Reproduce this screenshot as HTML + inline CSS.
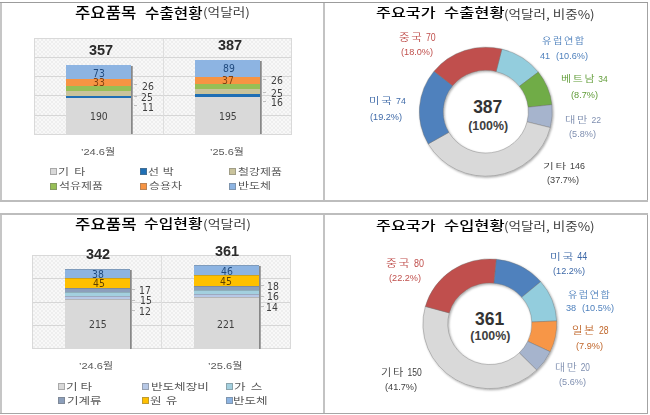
<!DOCTYPE html>
<html><head><meta charset="utf-8"><title>chart</title><style>
html,body{margin:0;padding:0}
body{background:#fff;width:650px;height:415px;overflow:hidden;position:relative}
.t{position:absolute;white-space:pre;line-height:1;transform-origin:0 0}
.r{position:absolute}
.mk{position:absolute;width:7px;height:7px;box-sizing:border-box;border:1px solid rgba(110,110,110,0.45)}
.dn{position:absolute;left:0;top:0}
.plot{position:absolute;box-sizing:border-box;border:1px solid #d9d9d9;background:repeating-conic-gradient(#eeeeee 0 25%, #f8f8f8 0 50%) 0 0/4px 4px}
</style></head><body>
<div class="r" style="left:0.00px;top:2.00px;width:2.00px;height:200.00px;background:#c6c6c6;"></div>
<div class="r" style="left:0.00px;top:213.00px;width:2.00px;height:201.00px;background:#c6c6c6;"></div>
<div class="r" style="left:323.00px;top:2.00px;width:2.00px;height:199.00px;background:#c3c3c3;"></div>
<div class="r" style="left:323.00px;top:213.00px;width:2.00px;height:200.00px;background:#c3c3c3;"></div>
<div class="r" style="left:647.00px;top:2.00px;width:1.20px;height:199.00px;background:#a3a3a3;"></div>
<div class="r" style="left:647.00px;top:213.00px;width:1.20px;height:200.00px;background:#a3a3a3;"></div>
<div class="r" style="left:0.00px;top:1.60px;width:648.00px;height:1.50px;background:#9c9c9c;"></div>
<div class="r" style="left:0.00px;top:200.00px;width:648.00px;height:2.00px;background:#bdbdbd;"></div>
<div class="r" style="left:0.00px;top:212.50px;width:648.00px;height:2.00px;background:#bdbdbd;"></div>
<div class="r" style="left:0.00px;top:412.50px;width:648.00px;height:1.50px;background:#a6a6a6;"></div>
<div class="plot" style="left:34px;top:38px;width:258px;height:96.5px"></div>
<div class="r" style="left:35.00px;top:56.80px;width:256.00px;height:1.00px;background:#d6d6d6;"></div>
<div class="r" style="left:35.00px;top:76.10px;width:256.00px;height:1.00px;background:#d6d6d6;"></div>
<div class="r" style="left:35.00px;top:95.40px;width:256.00px;height:1.00px;background:#d6d6d6;"></div>
<div class="r" style="left:35.00px;top:114.70px;width:256.00px;height:1.00px;background:#d6d6d6;"></div>
<div class="r" style="left:162.50px;top:39.00px;width:1.00px;height:94.50px;background:#dedede;"></div>
<div class="r" style="left:66.00px;top:97.83px;width:65.00px;height:36.67px;background:#d9d9d9;"></div>
<div class="r" style="left:66.00px;top:95.71px;width:65.00px;height:2.12px;background:#1f6fb5;"></div>
<div class="r" style="left:66.00px;top:90.88px;width:65.00px;height:4.83px;background:#c9c39c;"></div>
<div class="r" style="left:66.00px;top:85.86px;width:65.00px;height:5.02px;background:#97bf56;"></div>
<div class="r" style="left:66.00px;top:79.49px;width:65.00px;height:6.37px;background:#f79443;"></div>
<div class="r" style="left:66.00px;top:65.41px;width:65.00px;height:14.09px;background:#8db4e2;"></div>
<div class="r" style="left:131.00px;top:66.41px;width:2.00px;height:68.09px;background:linear-gradient(90deg,#7a7a7a,#b0b0b0);"></div>
<div class="r" style="left:195.00px;top:96.87px;width:65.00px;height:37.63px;background:#d9d9d9;"></div>
<div class="r" style="left:195.00px;top:93.78px;width:65.00px;height:3.09px;background:#1f6fb5;"></div>
<div class="r" style="left:195.00px;top:88.95px;width:65.00px;height:4.83px;background:#c9c39c;"></div>
<div class="r" style="left:195.00px;top:83.93px;width:65.00px;height:5.02px;background:#97bf56;"></div>
<div class="r" style="left:195.00px;top:76.79px;width:65.00px;height:7.14px;background:#f79443;"></div>
<div class="r" style="left:195.00px;top:59.62px;width:65.00px;height:17.18px;background:#8db4e2;"></div>
<div class="r" style="left:260.00px;top:60.62px;width:2.00px;height:73.88px;background:linear-gradient(90deg,#7a7a7a,#b0b0b0);"></div>
<div class="r" style="left:134.00px;top:84.10px;width:3.00px;height:1.00px;background:#bfbfbf;"></div>
<div class="r" style="left:134.00px;top:96.20px;width:3.00px;height:1.00px;background:#bfbfbf;"></div>
<div class="r" style="left:134.00px;top:105.30px;width:3.00px;height:1.00px;background:#bfbfbf;"></div>
<div class="r" style="left:263.00px;top:79.00px;width:3.00px;height:1.00px;background:#bfbfbf;"></div>
<div class="r" style="left:263.00px;top:92.00px;width:3.00px;height:1.00px;background:#bfbfbf;"></div>
<div class="r" style="left:263.00px;top:101.00px;width:3.00px;height:1.00px;background:#bfbfbf;"></div>
<div class="mk" style="left:50px;top:167.5px;background:#d9d9d9"></div>
<div class="mk" style="left:50px;top:183px;background:#97bf56"></div>
<div class="mk" style="left:139.5px;top:167.5px;background:#1f6fb5"></div>
<div class="mk" style="left:139.5px;top:183px;background:#f79443"></div>
<div class="mk" style="left:228.5px;top:167.5px;background:#c9c39c"></div>
<div class="mk" style="left:228.5px;top:183px;background:#8db4e2"></div>
<div class="plot" style="left:32px;top:255.2px;width:259px;height:93.80000000000001px"></div>
<div class="r" style="left:33.00px;top:278.15px;width:257.00px;height:1.00px;background:#d6d6d6;"></div>
<div class="r" style="left:33.00px;top:301.60px;width:257.00px;height:1.00px;background:#d6d6d6;"></div>
<div class="r" style="left:33.00px;top:325.05px;width:257.00px;height:1.00px;background:#d6d6d6;"></div>
<div class="r" style="left:161.00px;top:256.20px;width:1.00px;height:91.80px;background:#dedede;"></div>
<div class="r" style="left:65.00px;top:298.58px;width:64.50px;height:50.42px;background:#d9d9d9;box-shadow:inset 0 1px 0 rgba(90,90,90,0.28);"></div>
<div class="r" style="left:65.00px;top:295.77px;width:64.50px;height:2.81px;background:#b7c8e6;box-shadow:inset 0 1px 0 rgba(90,90,90,0.28);"></div>
<div class="r" style="left:65.00px;top:292.25px;width:64.50px;height:3.52px;background:#a3d0df;box-shadow:inset 0 1px 0 rgba(90,90,90,0.28);"></div>
<div class="r" style="left:65.00px;top:288.26px;width:64.50px;height:3.99px;background:#8c9fbb;box-shadow:inset 0 1px 0 rgba(90,90,90,0.28);"></div>
<div class="r" style="left:65.00px;top:277.71px;width:64.50px;height:10.55px;background:#ffc000;box-shadow:inset 0 1px 0 rgba(90,90,90,0.28);"></div>
<div class="r" style="left:65.00px;top:268.80px;width:64.50px;height:8.91px;background:#8db4e2;box-shadow:inset 0 1px 0 rgba(90,90,90,0.28);"></div>
<div class="r" style="left:129.50px;top:269.80px;width:2.00px;height:79.20px;background:linear-gradient(90deg,#7a7a7a,#b0b0b0);"></div>
<div class="r" style="left:194.40px;top:297.18px;width:64.60px;height:51.82px;background:#d9d9d9;box-shadow:inset 0 1px 0 rgba(90,90,90,0.28);"></div>
<div class="r" style="left:194.40px;top:293.89px;width:64.60px;height:3.28px;background:#b7c8e6;box-shadow:inset 0 1px 0 rgba(90,90,90,0.28);"></div>
<div class="r" style="left:194.40px;top:290.14px;width:64.60px;height:3.75px;background:#a3d0df;box-shadow:inset 0 1px 0 rgba(90,90,90,0.28);"></div>
<div class="r" style="left:194.40px;top:285.92px;width:64.60px;height:4.22px;background:#8c9fbb;box-shadow:inset 0 1px 0 rgba(90,90,90,0.28);"></div>
<div class="r" style="left:194.40px;top:275.37px;width:64.60px;height:10.55px;background:#ffc000;box-shadow:inset 0 1px 0 rgba(90,90,90,0.28);"></div>
<div class="r" style="left:194.40px;top:264.58px;width:64.60px;height:10.79px;background:#8db4e2;box-shadow:inset 0 1px 0 rgba(90,90,90,0.28);"></div>
<div class="r" style="left:259.00px;top:265.58px;width:2.00px;height:83.42px;background:linear-gradient(90deg,#7a7a7a,#b0b0b0);"></div>
<div class="r" style="left:132.00px;top:289.10px;width:3.00px;height:1.00px;background:#bfbfbf;"></div>
<div class="r" style="left:132.00px;top:299.70px;width:3.00px;height:1.00px;background:#bfbfbf;"></div>
<div class="r" style="left:132.00px;top:310.30px;width:3.00px;height:1.00px;background:#bfbfbf;"></div>
<div class="r" style="left:261.00px;top:285.10px;width:3.00px;height:1.00px;background:#bfbfbf;"></div>
<div class="r" style="left:261.00px;top:295.70px;width:3.00px;height:1.00px;background:#bfbfbf;"></div>
<div class="r" style="left:261.00px;top:306.30px;width:3.00px;height:1.00px;background:#bfbfbf;"></div>
<div class="mk" style="left:58px;top:383px;background:#d9d9d9"></div>
<div class="mk" style="left:58px;top:397px;background:#8c9fbb"></div>
<div class="mk" style="left:142px;top:383px;background:#b7c8e6"></div>
<div class="mk" style="left:142px;top:397px;background:#ffc000"></div>
<div class="mk" style="left:225.5px;top:383px;background:#a3d0df"></div>
<div class="mk" style="left:225.5px;top:397px;background:#8db4e2"></div>
<svg class="dn" width="650" height="415" viewBox="0 0 650 415"><defs><filter id="sh485" x="-20%" y="-20%" width="140%" height="140%"><feDropShadow dx="1" dy="1.2" stdDeviation="0.9" flood-color="#000" flood-opacity="0.35"/></filter></defs><g transform="translate(485.8,111.7) scale(1,0.97)" filter="url(#sh485)"><path d="M16.09,-64.52 A66.5,66.5 0 0 1 52.50,-40.81 L33.63,-26.15 A42.6,42.6 0 0 0 10.31,-41.33 Z" fill="#93cddd" stroke="rgba(110,110,110,0.55)" stroke-width="0.7"/><path d="M52.50,-40.81 A66.5,66.5 0 0 1 66.11,-7.22 L42.35,-4.62 A42.6,42.6 0 0 0 33.63,-26.15 Z" fill="#6fac46" stroke="rgba(110,110,110,0.55)" stroke-width="0.7"/><path d="M66.11,-7.22 A66.5,66.5 0 0 1 64.46,16.35 L41.29,10.47 A42.6,42.6 0 0 0 42.35,-4.62 Z" fill="#a6b4cd" stroke="rgba(110,110,110,0.55)" stroke-width="0.7"/><path d="M64.46,16.35 A66.5,66.5 0 0 1 -57.62,33.20 L-36.91,21.27 A42.6,42.6 0 0 0 41.29,10.47 Z" fill="#d9d9d9" stroke="rgba(110,110,110,0.55)" stroke-width="0.7"/><path d="M-57.62,33.20 A66.5,66.5 0 0 1 -51.77,-41.74 L-33.16,-26.74 A42.6,42.6 0 0 0 -36.91,21.27 Z" fill="#4f81bd" stroke="rgba(110,110,110,0.55)" stroke-width="0.7"/><path d="M-51.77,-41.74 A66.5,66.5 0 0 1 16.09,-64.52 L10.31,-41.33 A42.6,42.6 0 0 0 -33.16,-26.74 Z" fill="#c0504d" stroke="rgba(110,110,110,0.55)" stroke-width="0.7"/></g></svg>
<svg class="dn" width="650" height="415" viewBox="0 0 650 415"><defs><filter id="sh489" x="-20%" y="-20%" width="140%" height="140%"><feDropShadow dx="1" dy="1.2" stdDeviation="0.9" flood-color="#000" flood-opacity="0.35"/></filter></defs><g transform="translate(489.8,323.8) scale(1,0.97)" filter="url(#sh489)"><path d="M6.41,-66.59 A66.9,66.9 0 0 1 50.87,-43.45 L31.98,-27.31 A42.05,42.05 0 0 0 4.03,-41.86 Z" fill="#4f81bd" stroke="rgba(110,110,110,0.55)" stroke-width="0.7"/><path d="M50.87,-43.45 A66.9,66.9 0 0 1 66.84,-2.92 L42.01,-1.83 A42.05,42.05 0 0 0 31.98,-27.31 Z" fill="#93cddd" stroke="rgba(110,110,110,0.55)" stroke-width="0.7"/><path d="M66.84,-2.92 A66.9,66.9 0 0 1 60.38,28.80 L37.95,18.10 A42.05,42.05 0 0 0 42.01,-1.83 Z" fill="#f79646" stroke="rgba(110,110,110,0.55)" stroke-width="0.7"/><path d="M60.38,28.80 A66.9,66.9 0 0 1 46.89,47.72 L29.47,29.99 A42.05,42.05 0 0 0 37.95,18.10 Z" fill="#a6b4cd" stroke="rgba(110,110,110,0.55)" stroke-width="0.7"/><path d="M46.89,47.72 A66.9,66.9 0 0 1 -64.47,-17.88 L-40.52,-11.24 A42.05,42.05 0 0 0 29.47,29.99 Z" fill="#d9d9d9" stroke="rgba(110,110,110,0.55)" stroke-width="0.7"/><path d="M-64.47,-17.88 A66.9,66.9 0 0 1 6.41,-66.59 L4.03,-41.86 A42.05,42.05 0 0 0 -40.52,-11.24 Z" fill="#c0504d" stroke="rgba(110,110,110,0.55)" stroke-width="0.7"/></g></svg>
<div class="t" id="tl_title" style="left:75.25px;top:4.93px;font-size:14.28px;color:#000;font-weight:500;font-family:'Noto Sans CJK KR', 'Liberation Sans', sans-serif;transform:scaleX(1.1682);">주요품목</div>
<div class="t" id="tl_title2" style="left:144.67px;top:5.63px;font-size:13.67px;color:#000;font-weight:500;font-family:'Noto Sans CJK KR', 'Liberation Sans', sans-serif;transform:scaleX(1.1446);">수출현황</div>
<div class="t" id="tl_sub" style="left:203.18px;top:6.12px;font-size:12.04px;color:#404040;font-weight:normal;font-family:'Noto Sans CJK KR', 'Liberation Sans', sans-serif;transform:scaleX(1.1329);">(억달러)</div>
<div class="t" id="tl_tot1" style="left:89.46px;top:44.36px;font-size:13.80px;color:#2b2b2b;font-weight:bold;font-family:'Liberation Sans', 'Noto Sans CJK KR', sans-serif;transform:scaleX(1.0500);">357</div>
<div class="t" id="tl_tot2" style="left:217.68px;top:39.24px;font-size:13.80px;color:#2b2b2b;font-weight:bold;font-family:'Liberation Sans', 'Noto Sans CJK KR', sans-serif;transform:scaleX(1.0500);">387</div>
<div class="t" id="tl_73" style="left:93.08px;top:68.72px;font-size:9.60px;color:#1f497d;font-weight:normal;font-family:'DejaVu Sans', 'Liberation Sans', sans-serif;transform:scaleX(0.9700);">73</div>
<div class="t" id="tl_33" style="left:93.48px;top:78.47px;font-size:9.60px;color:#7f3f10;font-weight:normal;font-family:'DejaVu Sans', 'Liberation Sans', sans-serif;transform:scaleX(0.9700);">33</div>
<div class="t" id="tl_190" style="left:90.29px;top:112.04px;font-size:9.60px;color:#404040;font-weight:normal;font-family:'DejaVu Sans', 'Liberation Sans', sans-serif;transform:scaleX(0.9700);">190</div>
<div class="t" id="tl_89" style="left:222.66px;top:64.35px;font-size:9.60px;color:#1f497d;font-weight:normal;font-family:'DejaVu Sans', 'Liberation Sans', sans-serif;transform:scaleX(0.9700);">89</div>
<div class="t" id="tl_37" style="left:222.29px;top:76.26px;font-size:9.60px;color:#7f3f10;font-weight:normal;font-family:'DejaVu Sans', 'Liberation Sans', sans-serif;transform:scaleX(0.9700);">37</div>
<div class="t" id="tl_195" style="left:218.62px;top:111.53px;font-size:9.60px;color:#404040;font-weight:normal;font-family:'DejaVu Sans', 'Liberation Sans', sans-serif;transform:scaleX(0.9700);">195</div>
<div class="t" id="tl_26a" style="left:141.51px;top:81.85px;font-size:9.60px;color:#404040;font-weight:normal;font-family:'DejaVu Sans', 'Liberation Sans', sans-serif;transform:scaleX(0.9700);">26</div>
<div class="t" id="tl_25a" style="left:141.36px;top:93.10px;font-size:9.60px;color:#404040;font-weight:normal;font-family:'DejaVu Sans', 'Liberation Sans', sans-serif;transform:scaleX(0.9700);">25</div>
<div class="t" id="tl_11a" style="left:141.53px;top:102.52px;font-size:9.60px;color:#404040;font-weight:normal;font-family:'DejaVu Sans', 'Liberation Sans', sans-serif;transform:scaleX(0.9700);">11</div>
<div class="t" id="tl_26b" style="left:270.96px;top:75.64px;font-size:9.60px;color:#404040;font-weight:normal;font-family:'DejaVu Sans', 'Liberation Sans', sans-serif;transform:scaleX(0.9700);">26</div>
<div class="t" id="tl_25b" style="left:270.96px;top:88.90px;font-size:9.60px;color:#404040;font-weight:normal;font-family:'DejaVu Sans', 'Liberation Sans', sans-serif;transform:scaleX(0.9700);">25</div>
<div class="t" id="tl_16b" style="left:270.88px;top:98.16px;font-size:9.60px;color:#404040;font-weight:normal;font-family:'DejaVu Sans', 'Liberation Sans', sans-serif;transform:scaleX(0.9700);">16</div>
<div class="t" id="tl_cat1" style="left:81.00px;top:146.58px;font-size:9.52px;color:#595959;font-weight:normal;font-family:'Liberation Sans', 'Noto Sans CJK KR', sans-serif;transform:scaleX(1.1626);">&#8217;24.6월</div>
<div class="t" id="tl_cat2" style="left:210.29px;top:146.58px;font-size:9.52px;color:#595959;font-weight:normal;font-family:'Liberation Sans', 'Noto Sans CJK KR', sans-serif;transform:scaleX(1.1491);">&#8217;25.6월</div>
<div class="t" id="tl_l1" style="left:58.48px;top:166.72px;font-size:9.31px;color:#595959;font-weight:normal;font-family:'Noto Sans CJK KR', 'Liberation Sans', sans-serif;transform:scaleX(1.2838);word-spacing:1.93px;">기 타</div>
<div class="t" id="tl_l2" style="left:58.64px;top:181.27px;font-size:9.31px;color:#595959;font-weight:normal;font-family:'Noto Sans CJK KR', 'Liberation Sans', sans-serif;transform:scaleX(1.2838);">석유제품</div>
<div class="t" id="tl_l3" style="left:148.16px;top:166.72px;font-size:9.31px;color:#595959;font-weight:normal;font-family:'Noto Sans CJK KR', 'Liberation Sans', sans-serif;transform:scaleX(1.2838);word-spacing:0.88px;">선 박</div>
<div class="t" id="tl_l4" style="left:148.83px;top:181.27px;font-size:9.31px;color:#595959;font-weight:normal;font-family:'Noto Sans CJK KR', 'Liberation Sans', sans-serif;transform:scaleX(1.2838);">승용차</div>
<div class="t" id="tl_l5" style="left:237.88px;top:167.19px;font-size:9.31px;color:#595959;font-weight:normal;font-family:'Noto Sans CJK KR', 'Liberation Sans', sans-serif;transform:scaleX(1.2838);">철강제품</div>
<div class="t" id="tl_l6" style="left:238.10px;top:181.19px;font-size:9.31px;color:#595959;font-weight:normal;font-family:'Noto Sans CJK KR', 'Liberation Sans', sans-serif;transform:scaleX(1.2838);">반도체</div>
<div class="t" id="tr_title" style="left:375.92px;top:5.93px;font-size:12.56px;color:#000;font-weight:500;font-family:'Noto Sans CJK KR', 'Liberation Sans', sans-serif;transform:scaleX(1.2910);">주요국가</div>
<div class="t" id="tr_title2" style="left:443.59px;top:5.93px;font-size:12.56px;color:#000;font-weight:500;font-family:'Noto Sans CJK KR', 'Liberation Sans', sans-serif;transform:scaleX(1.3124);">수출현황</div>
<div class="t" id="tr_sub" style="left:504.06px;top:7.62px;font-size:12.04px;color:#404040;font-weight:normal;font-family:'Noto Sans CJK KR', 'Liberation Sans', sans-serif;transform:scaleX(1.1249);">(억달러, 비중%)</div>
<div class="t" id="tr_cn1" style="left:398.52px;top:32.85px;font-size:9.79px;color:#c0504d;font-weight:350;font-family:'Noto Sans CJK KR', 'Liberation Sans', sans-serif;transform:scaleX(1.1724);"><span style="letter-spacing:0.15em">중국</span> <span style="display:inline-block;font-family:'Liberation Sans',sans-serif;font-size:1.06em;transform:scaleX(0.72);transform-origin:0 0">70</span></div>
<div class="t" id="tr_cn2" style="left:401.01px;top:47.99px;font-size:8.80px;color:#c0504d;font-weight:350;font-family:'Liberation Sans', 'Noto Sans CJK KR', sans-serif;transform:scaleX(1.0400);">(18.0%)</div>
<div class="t" id="tr_eu1" style="left:542.10px;top:35.63px;font-size:8.69px;color:#4f81bd;font-weight:350;font-family:'Noto Sans CJK KR', 'Liberation Sans', sans-serif;transform:scaleX(1.1786);"><span style="letter-spacing:0.15em">유럽연합</span></div>
<div class="t" id="tr_eu2" style="left:539.68px;top:51.93px;font-size:8.80px;color:#4f81bd;font-weight:350;font-family:'Liberation Sans', 'Noto Sans CJK KR', sans-serif;transform:scaleX(1.0400);word-spacing:3.12px;">41 (10.6%)</div>
<div class="t" id="tr_vn1" style="left:561.16px;top:75.28px;font-size:8.85px;color:#5f9b35;font-weight:350;font-family:'Noto Sans CJK KR', 'Liberation Sans', sans-serif;transform:scaleX(1.2412);"><span style="letter-spacing:0.15em">베트남</span> <span style="display:inline-block;font-family:'Liberation Sans',sans-serif;font-size:1.06em;transform:scaleX(0.72);transform-origin:0 0">34</span></div>
<div class="t" id="tr_vn2" style="left:570.55px;top:90.94px;font-size:8.80px;color:#5f9b35;font-weight:350;font-family:'Liberation Sans', 'Noto Sans CJK KR', sans-serif;transform:scaleX(1.0400);">(8.7%)</div>
<div class="t" id="tr_tw1" style="left:565.37px;top:114.52px;font-size:9.37px;color:#7f8fb0;font-weight:350;font-family:'Noto Sans CJK KR', 'Liberation Sans', sans-serif;transform:scaleX(1.2071);"><span style="letter-spacing:0.15em">대만</span> <span style="display:inline-block;font-family:'Liberation Sans',sans-serif;font-size:1.06em;transform:scaleX(0.72);transform-origin:0 0">22</span></div>
<div class="t" id="tr_tw2" style="left:568.66px;top:129.63px;font-size:8.80px;color:#7f8fb0;font-weight:350;font-family:'Liberation Sans', 'Noto Sans CJK KR', sans-serif;transform:scaleX(1.0400);">(5.8%)</div>
<div class="t" id="tr_ot1" style="left:542.64px;top:160.82px;font-size:8.21px;color:#404040;font-weight:350;font-family:'Noto Sans CJK KR', 'Liberation Sans', sans-serif;transform:scaleX(1.4216);"><span style="letter-spacing:0.15em">기타</span> <span style="display:inline-block;font-family:'Liberation Sans',sans-serif;font-size:1.06em;transform:scaleX(0.72);transform-origin:0 0">146</span></div>
<div class="t" id="tr_ot2" style="left:546.82px;top:175.94px;font-size:8.80px;color:#404040;font-weight:350;font-family:'Liberation Sans', 'Noto Sans CJK KR', sans-serif;transform:scaleX(1.0400);">(37.7%)</div>
<div class="t" id="tr_us1" style="left:369.36px;top:97.28px;font-size:8.85px;color:#3f6aa8;font-weight:350;font-family:'Noto Sans CJK KR', 'Liberation Sans', sans-serif;transform:scaleX(1.2914);"><span style="letter-spacing:0.15em">미국</span> <span style="display:inline-block;font-family:'Liberation Sans',sans-serif;font-size:1.06em;transform:scaleX(0.72);transform-origin:0 0">74</span></div>
<div class="t" id="tr_us2" style="left:370.32px;top:112.50px;font-size:8.80px;color:#3f6aa8;font-weight:350;font-family:'Liberation Sans', 'Noto Sans CJK KR', sans-serif;transform:scaleX(1.0400);">(19.2%)</div>
<div class="t" id="tr_c1" style="left:473.14px;top:98.73px;font-size:17.50px;color:#333333;font-weight:bold;font-family:'Liberation Sans', 'Noto Sans CJK KR', sans-serif;">387</div>
<div class="t" id="tr_c2" style="left:468.15px;top:119.83px;font-size:12.40px;color:#404040;font-weight:bold;font-family:'Liberation Sans', 'Noto Sans CJK KR', sans-serif;">(100%)</div>
<div class="t" id="bl_title" style="left:75.01px;top:216.42px;font-size:14.02px;color:#000;font-weight:500;font-family:'Noto Sans CJK KR', 'Liberation Sans', sans-serif;transform:scaleX(1.1925);">주요품목</div>
<div class="t" id="bl_title2" style="left:143.63px;top:216.94px;font-size:12.86px;color:#000;font-weight:500;font-family:'Noto Sans CJK KR', 'Liberation Sans', sans-serif;transform:scaleX(1.2396);">수입현황</div>
<div class="t" id="bl_sub" style="left:202.54px;top:218.26px;font-size:12.04px;color:#404040;font-weight:normal;font-family:'Noto Sans CJK KR', 'Liberation Sans', sans-serif;transform:scaleX(1.1596);">(억달러)</div>
<div class="t" id="bl_tot1" style="left:86.12px;top:247.60px;font-size:13.80px;color:#2b2b2b;font-weight:bold;font-family:'Liberation Sans', 'Noto Sans CJK KR', sans-serif;transform:scaleX(1.0500);">342</div>
<div class="t" id="bl_tot2" style="left:214.57px;top:245.46px;font-size:13.80px;color:#2b2b2b;font-weight:bold;font-family:'Liberation Sans', 'Noto Sans CJK KR', sans-serif;transform:scaleX(1.0500);">361</div>
<div class="t" id="bl_38" style="left:91.64px;top:270.16px;font-size:9.60px;color:#1f497d;font-weight:normal;font-family:'DejaVu Sans', 'Liberation Sans', sans-serif;transform:scaleX(0.9700);">38</div>
<div class="t" id="bl_45a" style="left:92.54px;top:279.34px;font-size:9.60px;color:#5f4000;font-weight:normal;font-family:'DejaVu Sans', 'Liberation Sans', sans-serif;transform:scaleX(0.9700);">45</div>
<div class="t" id="bl_215" style="left:88.83px;top:320.35px;font-size:9.60px;color:#404040;font-weight:normal;font-family:'DejaVu Sans', 'Liberation Sans', sans-serif;transform:scaleX(0.9700);">215</div>
<div class="t" id="bl_46" style="left:220.75px;top:266.72px;font-size:9.60px;color:#1f497d;font-weight:normal;font-family:'DejaVu Sans', 'Liberation Sans', sans-serif;transform:scaleX(0.9700);">46</div>
<div class="t" id="bl_45b" style="left:220.48px;top:276.62px;font-size:9.60px;color:#5f4000;font-weight:normal;font-family:'DejaVu Sans', 'Liberation Sans', sans-serif;transform:scaleX(0.9700);">45</div>
<div class="t" id="bl_221" style="left:217.42px;top:319.55px;font-size:9.60px;color:#404040;font-weight:normal;font-family:'DejaVu Sans', 'Liberation Sans', sans-serif;transform:scaleX(0.9700);">221</div>
<div class="t" id="bl_17" style="left:139.25px;top:285.52px;font-size:9.60px;color:#404040;font-weight:normal;font-family:'DejaVu Sans', 'Liberation Sans', sans-serif;transform:scaleX(0.9700);">17</div>
<div class="t" id="bl_15" style="left:139.66px;top:296.43px;font-size:9.60px;color:#404040;font-weight:normal;font-family:'DejaVu Sans', 'Liberation Sans', sans-serif;transform:scaleX(0.9700);">15</div>
<div class="t" id="bl_12" style="left:139.24px;top:307.22px;font-size:9.60px;color:#404040;font-weight:normal;font-family:'DejaVu Sans', 'Liberation Sans', sans-serif;transform:scaleX(0.9700);">12</div>
<div class="t" id="bl_18" style="left:266.71px;top:281.85px;font-size:9.60px;color:#404040;font-weight:normal;font-family:'DejaVu Sans', 'Liberation Sans', sans-serif;transform:scaleX(0.9700);">18</div>
<div class="t" id="bl_16" style="left:266.71px;top:292.31px;font-size:9.60px;color:#404040;font-weight:normal;font-family:'DejaVu Sans', 'Liberation Sans', sans-serif;transform:scaleX(0.9700);">16</div>
<div class="t" id="bl_14" style="left:266.03px;top:303.11px;font-size:9.60px;color:#404040;font-weight:normal;font-family:'DejaVu Sans', 'Liberation Sans', sans-serif;transform:scaleX(0.9700);">14</div>
<div class="t" id="bl_cat1" style="left:79.02px;top:361.54px;font-size:8.70px;color:#595959;font-weight:normal;font-family:'Liberation Sans', 'Noto Sans CJK KR', sans-serif;transform:scaleX(1.2689);">&#8217;24.6월</div>
<div class="t" id="bl_cat2" style="left:208.26px;top:360.54px;font-size:9.52px;color:#595959;font-weight:normal;font-family:'Liberation Sans', 'Noto Sans CJK KR', sans-serif;transform:scaleX(1.1715);">&#8217;25.6월</div>
<div class="t" id="bl_l1" style="left:66.49px;top:382.07px;font-size:9.65px;color:#595959;font-weight:normal;font-family:'Noto Sans CJK KR', 'Liberation Sans', sans-serif;transform:scaleX(1.3048);word-spacing:0.09px;">기 타</div>
<div class="t" id="bl_l2" style="left:67.02px;top:396.24px;font-size:9.65px;color:#595959;font-weight:normal;font-family:'Noto Sans CJK KR', 'Liberation Sans', sans-serif;transform:scaleX(1.3048);">기계류</div>
<div class="t" id="bl_l3" style="left:150.78px;top:382.49px;font-size:9.65px;color:#595959;font-weight:normal;font-family:'Noto Sans CJK KR', 'Liberation Sans', sans-serif;transform:scaleX(1.3048);">반도체장비</div>
<div class="t" id="bl_l4" style="left:150.33px;top:396.24px;font-size:9.65px;color:#595959;font-weight:normal;font-family:'Noto Sans CJK KR', 'Liberation Sans', sans-serif;transform:scaleX(1.3048);word-spacing:1.05px;">원 유</div>
<div class="t" id="bl_l5" style="left:233.50px;top:382.07px;font-size:9.65px;color:#595959;font-weight:normal;font-family:'Noto Sans CJK KR', 'Liberation Sans', sans-serif;transform:scaleX(1.3048);word-spacing:1.87px;">가 스</div>
<div class="t" id="bl_l6" style="left:233.08px;top:396.24px;font-size:9.65px;color:#595959;font-weight:normal;font-family:'Noto Sans CJK KR', 'Liberation Sans', sans-serif;transform:scaleX(1.3048);">반도체</div>
<div class="t" id="br_title" style="left:375.72px;top:218.96px;font-size:12.56px;color:#000;font-weight:500;font-family:'Noto Sans CJK KR', 'Liberation Sans', sans-serif;transform:scaleX(1.2911);">주요국가</div>
<div class="t" id="br_title2" style="left:443.99px;top:218.56px;font-size:12.56px;color:#000;font-weight:500;font-family:'Noto Sans CJK KR', 'Liberation Sans', sans-serif;transform:scaleX(1.3124);">수입현황</div>
<div class="t" id="br_sub" style="left:504.06px;top:219.94px;font-size:12.04px;color:#404040;font-weight:normal;font-family:'Noto Sans CJK KR', 'Liberation Sans', sans-serif;transform:scaleX(1.1249);">(억달러, 비중%)</div>
<div class="t" id="br_cn1" style="left:386.41px;top:259.34px;font-size:9.68px;color:#c0504d;font-weight:350;font-family:'Noto Sans CJK KR', 'Liberation Sans', sans-serif;transform:scaleX(1.2181);"><span style="letter-spacing:0.15em">중국</span> <span style="display:inline-block;font-family:'Liberation Sans',sans-serif;font-size:1.06em;transform:scaleX(0.72);transform-origin:0 0">80</span></div>
<div class="t" id="br_cn2" style="left:388.70px;top:274.32px;font-size:8.80px;color:#c0504d;font-weight:350;font-family:'Liberation Sans', 'Noto Sans CJK KR', sans-serif;transform:scaleX(1.0400);">(22.2%)</div>
<div class="t" id="br_us1" style="left:550.37px;top:251.69px;font-size:9.46px;color:#3f6aa8;font-weight:350;font-family:'Noto Sans CJK KR', 'Liberation Sans', sans-serif;transform:scaleX(1.2364);"><span style="letter-spacing:0.15em">미국</span> <span style="display:inline-block;font-family:'Liberation Sans',sans-serif;font-size:1.06em;transform:scaleX(0.72);transform-origin:0 0">44</span></div>
<div class="t" id="br_us2" style="left:552.55px;top:266.77px;font-size:8.80px;color:#3f6aa8;font-weight:350;font-family:'Liberation Sans', 'Noto Sans CJK KR', sans-serif;transform:scaleX(1.0400);">(12.2%)</div>
<div class="t" id="br_eu1" style="left:568.36px;top:289.52px;font-size:9.37px;color:#4f81bd;font-weight:350;font-family:'Noto Sans CJK KR', 'Liberation Sans', sans-serif;transform:scaleX(1.0839);"><span style="letter-spacing:0.15em">유럽연합</span></div>
<div class="t" id="br_eu2" style="left:565.50px;top:304.39px;font-size:8.80px;color:#4f81bd;font-weight:350;font-family:'Liberation Sans', 'Noto Sans CJK KR', sans-serif;transform:scaleX(1.0400);word-spacing:3.12px;">38 (10.5%)</div>
<div class="t" id="br_jp1" style="left:572.13px;top:326.34px;font-size:9.68px;color:#c0662a;font-weight:350;font-family:'Noto Sans CJK KR', 'Liberation Sans', sans-serif;transform:scaleX(1.1710);"><span style="letter-spacing:0.15em">일본</span> <span style="display:inline-block;font-family:'Liberation Sans',sans-serif;font-size:1.06em;transform:scaleX(0.72);transform-origin:0 0">28</span></div>
<div class="t" id="br_jp2" style="left:575.73px;top:341.70px;font-size:8.80px;color:#c0662a;font-weight:350;font-family:'Liberation Sans', 'Noto Sans CJK KR', sans-serif;transform:scaleX(1.0400);">(7.9%)</div>
<div class="t" id="br_tw1" style="left:555.29px;top:363.05px;font-size:9.80px;color:#7f8fb0;font-weight:350;font-family:'Noto Sans CJK KR', 'Liberation Sans', sans-serif;transform:scaleX(1.1148);"><span style="letter-spacing:0.15em">대만</span> <span style="display:inline-block;font-family:'Liberation Sans',sans-serif;font-size:1.06em;transform:scaleX(0.72);transform-origin:0 0">20</span></div>
<div class="t" id="br_tw2" style="left:559.14px;top:378.46px;font-size:8.80px;color:#7f8fb0;font-weight:350;font-family:'Liberation Sans', 'Noto Sans CJK KR', sans-serif;transform:scaleX(1.0400);">(5.6%)</div>
<div class="t" id="br_ot1" style="left:380.95px;top:367.71px;font-size:9.69px;color:#404040;font-weight:350;font-family:'Noto Sans CJK KR', 'Liberation Sans', sans-serif;transform:scaleX(1.1524);"><span style="letter-spacing:0.15em">기타</span> <span style="display:inline-block;font-family:'Liberation Sans',sans-serif;font-size:1.06em;transform:scaleX(0.72);transform-origin:0 0">150</span></div>
<div class="t" id="br_ot2" style="left:385.40px;top:382.83px;font-size:8.80px;color:#404040;font-weight:350;font-family:'Liberation Sans', 'Noto Sans CJK KR', sans-serif;transform:scaleX(1.0400);">(41.7%)</div>
<div class="t" id="br_c1" style="left:475.11px;top:310.53px;font-size:17.50px;color:#333333;font-weight:bold;font-family:'Liberation Sans', 'Noto Sans CJK KR', sans-serif;">361</div>
<div class="t" id="br_c2" style="left:470.37px;top:330.16px;font-size:12.40px;color:#404040;font-weight:bold;font-family:'Liberation Sans', 'Noto Sans CJK KR', sans-serif;">(100%)</div>
</body></html>
